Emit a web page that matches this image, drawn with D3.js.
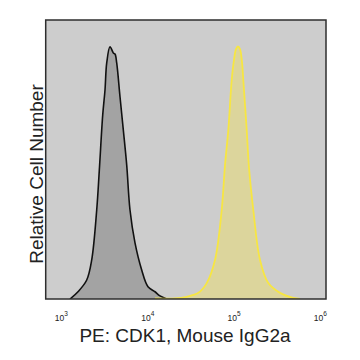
<!DOCTYPE html>
<html>
<head>
<meta charset="utf-8">
<script src="https://cdn.jsdelivr.net/npm/d3@7"></script>
<style>
  html, body { margin: 0; padding: 0; background: #ffffff; }
  svg { display: block; }
  text { font-family: Arial, "Liberation Sans", sans-serif; fill: #222; }
</style>
</head>
<body>
<svg id="chart" width="360" height="360"></svg>
<script>
// ---- data ----
const tickExponents = [3, 4, 5, 6];
const xTitle = "PE: CDK1, Mouse IgG2a";
const yTitle = "Relative Cell Number";

// isotype-like dark histogram: intensity, relative count
const darkIntensity = [1258, 1557, 1965, 2245, 2565, 2750, 3010, 3200, 3350, 3658, 3995, 4180, 4373, 4775, 5215, 5712, 6235, 7125, 8520, 10080, 12150, 13880, 16610];
const darkCount     = [0,    2.6,  6.8,  14.0, 31.9, 46.2, 65.9, 74.9, 84.6, 90.4, 88.2, 87.8, 84.6, 72.5, 60.6, 48.0, 31.9, 20.1, 10.4, 4.4,   2.6,   1.1,   0];

// CDK1 yellow histogram
const yellowIntensity = [12150, 20720, 28310, 38590, 48280, 60230, 72020, 78640, 85910, 94050, 100000, 105480, 111240, 117330, 123780, 128130, 140320, 149250, 167330, 200130, 249720, 341200, 486630, 582000];
const yellowCount     = [0.2,   0.2,   0.8,   2.2,   5.7,   14.0,  31.9,  48.0,  60.6,  78.5,  85.7,   89.6,   90.5,   89.6,   84.9,   78.5,   60.6,   47.0,   31.9,   14.0,   5.7,    2.2,    0.4,    0];

// ---- layout ----
const plot = { left: 45.7, top: 20, right: 326, bottom: 299 };
const svg = d3.select("#chart");

const x = d3.scaleLog()
  .domain([Math.pow(10, 2.818), Math.pow(10, 6.066)])
  .range([plot.left, plot.right]);
const y = d3.scaleLinear()
  .domain([0, 100])
  .range([plot.bottom, plot.top]);

// background
svg.append("rect")
  .attr("x", plot.left).attr("y", plot.top)
  .attr("width", plot.right - plot.left).attr("height", plot.bottom - plot.top)
  .attr("fill", "#cdcdcd");

svg.append("clipPath").attr("id", "clip")
  .append("rect")
  .attr("x", plot.left).attr("y", plot.top)
  .attr("width", plot.right - plot.left).attr("height", plot.bottom - plot.top);

const g = svg.append("g").attr("clip-path", "url(#clip)");

function series(xs, ys) { return xs.map((v, i) => [v, ys[i]]); }

const area = d3.area()
  .x(d => x(d[0])).y0(y(0)).y1(d => y(d[1]))
  .curve(d3.curveCatmullRom.alpha(0.5));
const line = d3.line()
  .x(d => x(d[0])).y(d => y(d[1]))
  .curve(d3.curveCatmullRom.alpha(0.5));

const dark = series(darkIntensity, darkCount);
const yellow = series(yellowIntensity, yellowCount);

g.append("path").datum(dark).attr("d", area).attr("fill", "#a3a3a3");
g.append("path").datum(dark).attr("d", line)
  .attr("fill", "none").attr("stroke", "#111").attr("stroke-width", 1.6);

g.append("path").datum(yellow).attr("d", area).attr("fill", "#dcd59c");
g.append("path").datum(yellow).attr("d", line)
  .attr("fill", "none").attr("stroke", "#f7e642").attr("stroke-width", 1.8);

// frame
svg.append("rect")
  .attr("x", plot.left).attr("y", plot.top)
  .attr("width", plot.right - plot.left).attr("height", plot.bottom - plot.top)
  .attr("fill", "none").attr("stroke", "#2e2e2e").attr("stroke-width", 1.5);

// x tick labels (10^n)
const tl = svg.append("g").selectAll("text")
  .data(tickExponents).join("text")
  .attr("x", d => x(Math.pow(10, d)))
  .attr("y", 321)
  .attr("text-anchor", "middle")
  .style("font-size", "8.5px");
tl.append("tspan").text("10");
tl.append("tspan").attr("dy", -5).style("font-size", "6.5px").text(d => d);

// axis titles
svg.append("text")
  .attr("x", 185).attr("y", 342)
  .attr("text-anchor", "middle")
  .style("font-size", "19px")
  .text(xTitle);

svg.append("text")
  .attr("transform", "translate(43,174) rotate(-90)")
  .attr("text-anchor", "middle")
  .style("font-size", "19px")
  .text(yTitle);
</script>
</body>
</html>
